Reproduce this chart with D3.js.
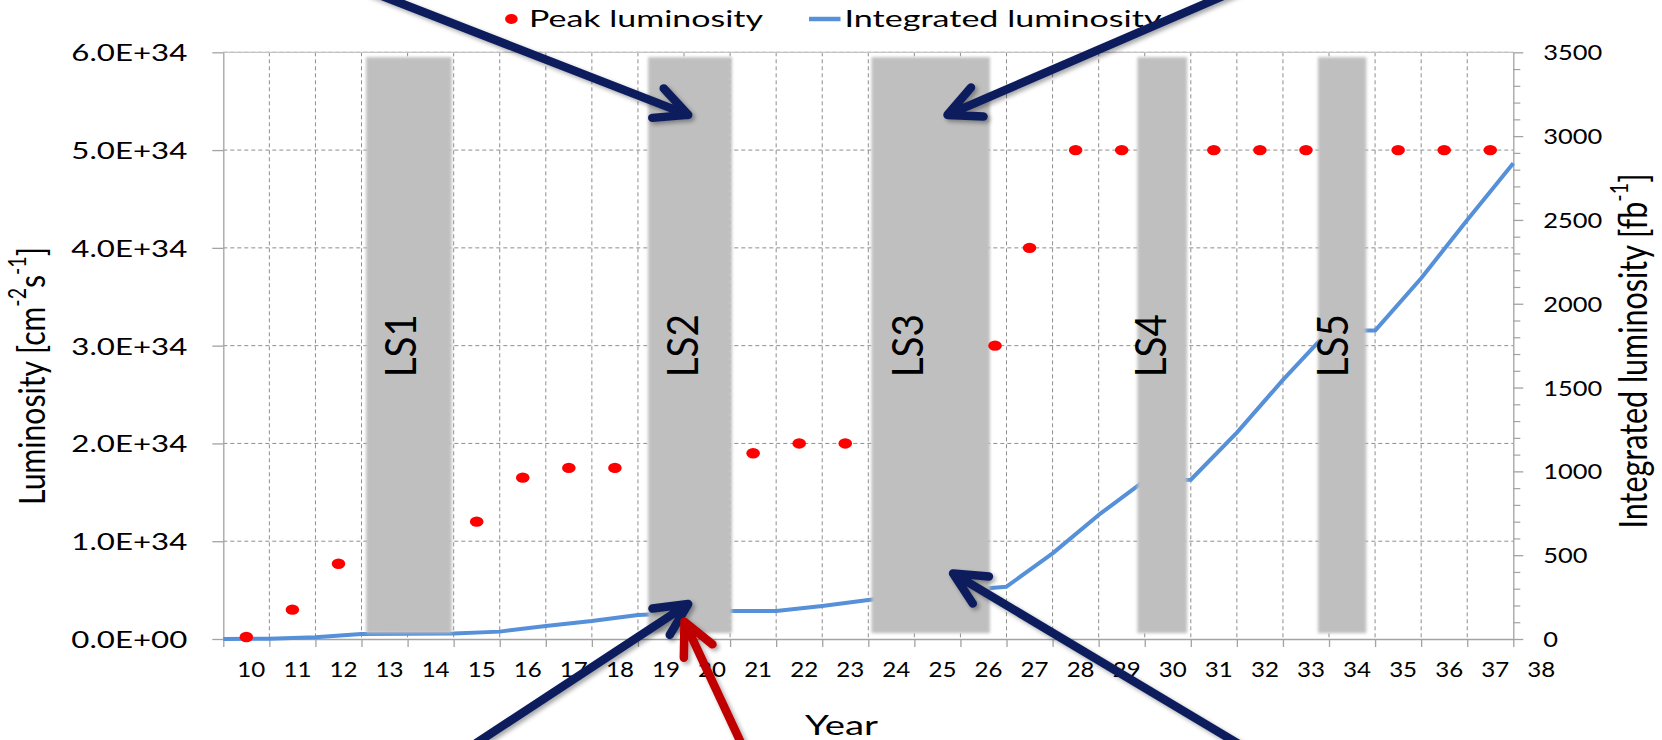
<!DOCTYPE html>
<html><head><meta charset="utf-8">
<script src="https://cdn.jsdelivr.net/npm/d3@7"></script>
<style>
body{margin:0;background:#fff;}
svg text{font-family:Lato,"Open Sans",sans-serif;fill:#000;}
</style>
</head><body>
<svg id="chart" width="1662" height="740"></svg>
<script>
// ---------------- data ----------------
const peakYears = [10, 11, 12, 15, 16, 17, 18, 21, 22, 23, 26.25, 27, 28, 29, 31, 32, 33, 35, 36, 37];
const peakLumi  = [0.02e34, 0.3e34, 0.77e34, 1.2e34, 1.65e34, 1.75e34, 1.75e34, 1.9e34, 2.0e34, 2.0e34,
                   3.0e34, 4.0e34, 5e34, 5e34, 5e34, 5e34, 5e34, 5e34, 5e34, 5e34];
const intYears = [9.5, 10.5, 11.5, 12.5, 14.5, 15.5, 16.5, 17.5, 18.5, 20.5, 21.5, 22.5, 23.5, 25.5, 26.5,
                  27.5, 28.5, 29.5, 30.5, 31.5, 32.5, 33.5, 34.5, 35.5, 36.5, 37.5];
const intLumi  = [0, 2, 10, 30, 33, 44, 78, 107, 143, 167, 167, 197, 233, 290, 312,
                  511, 740, 945, 950, 1231, 1546, 1840, 1840, 2152, 2500, 2838];
const shutdownNames = ["LS1", "LS2", "LS3", "LS4", "LS5"];
const shutdownStart = [12.6, 18.72, 23.57, 29.34, 33.26];
const shutdownEnd   = [14.46, 20.54, 26.14, 30.42, 34.31];
const shutdownLabelYear = [13.34, 19.46, 24.34, 29.63, 33.57];
const shutdownLabelLumi = 3.0e34;
const yearTicks = d3.range(10, 39);
const yearBounds = d3.range(9.5, 38, 1);
const lumiTicks = d3.range(0, 7).map(d => d * 1e34);
const intTicks = d3.range(0, 3501, 500);
const intMinorTicks = d3.range(0, 3501, 100);
const legendLabels = ["Peak luminosity", "Integrated luminosity"];
const xTitle = "Year";
// annotation arrows (year, luminosity in units of 1E34)
const arrowTailYear = [12.60, 31.52, 14.76, 20.81, 31.76];
const arrowTailLumi = [6.64, 6.64, -1.136, -1.136, -1.136];
const arrowTipYear  = [19.59, 25.22, 19.59, 19.51, 25.34];
const arrowTipLumi  = [5.36, 5.36, 0.358, 0.177, 0.671];
const arrowKind     = ["navy", "navy", "navy", "red", "navy"];

// ---------------- layout ----------------
const svg = d3.select("#chart");
const L = 223.3, R = 1513.3, T = 52.3, B = 639;
const x = d3.scaleLinear().domain([9.5, 37.5]).range([L, R]);
const yL = d3.scaleLinear().domain([0, 6e34]).range([B, T]);
const yR = d3.scaleLinear().domain([0, 3500]).range([B, T]);
const CAP = 0.7165;
const GRID = "#8e8e8e", AXIS = "#a3a3a3";
const BLUE = "#5590d8", RED = "#ff0000", NAVY = "#0b1f5c", DARKRED = "#c00000";

const defs = svg.append("defs");
defs.append("filter").attr("id", "soft").attr("x", "-10%").attr("y", "-5%").attr("width", "120%").attr("height", "110%")
  .append("feGaussianBlur").attr("stdDeviation", 1.6);
const sh = defs.append("filter").attr("id", "shadow").attr("x", "-20%").attr("y", "-20%").attr("width", "140%").attr("height", "140%");
sh.append("feDropShadow").attr("dx", 2.5).attr("dy", 2.5).attr("stdDeviation", 2).attr("flood-color", "#000").attr("flood-opacity", 0.35);

function label(parent, o) {
  const t = parent.append("text").attr("text-anchor", o.anchor || "middle").style("font-size", (o.cap / CAP) + "px");
  let prevSup = false;
  o.parts.forEach(p => {
    const ts = t.append("tspan").text(p.t);
    if (p.sup) { ts.style("font-size", "65%").attr("dy", "-0.75em"); prevSup = true; }
    else if (prevSup) { ts.attr("dy", "0.4875em"); prevSup = false; }
  });
  const w = t.node().getBBox().width;
  const sx = o.len ? o.len / w : 1;
  t.attr("y", o.cap / 2).attr("transform", `translate(${o.x},${o.y}) rotate(${o.rot || 0}) scale(${sx},1)`);
  return t;
}
function restyleTicks(g, cap, refW, anchor, dx, dy) {
  const texts = g.selectAll(".tick text");
  texts.style("font-size", (cap / CAP) + "px").attr("fill", "#000").attr("font-family", null);
  const w = texts.nodes()[texts.size() - 1].getBBox().width;
  const sx = refW / w;
  texts.attr("x", 0).attr("dy", null).attr("y", cap / 2).attr("text-anchor", anchor)
    .attr("transform", `translate(${dx},${dy}) scale(${sx},1)`);
}

// ---------------- gridlines ----------------
const grid = svg.append("g");
grid.selectAll(".vg").data(yearBounds.filter(d => d > 9.5 && d < 37.5)).join("line")
  .attr("x1", d => x(d)).attr("x2", d => x(d)).attr("y1", T).attr("y2", B)
  .attr("stroke", GRID).attr("stroke-width", 1).attr("stroke-dasharray", "4,3");
grid.selectAll(".hg").data(lumiTicks.filter(d => d > 0 && d < 6e34)).join("line")
  .attr("x1", L).attr("x2", R).attr("y1", d => yL(d)).attr("y2", d => yL(d))
  .attr("stroke", GRID).attr("stroke-width", 1).attr("stroke-dasharray", "4,3");
grid.append("line").attr("x1", L).attr("x2", R).attr("y1", yL(6e34)).attr("y2", yL(6e34))
  .attr("stroke", "#c4c4c4").attr("stroke-width", 1.3);

// ---------------- axes ----------------
const fmtE = v => { if (v === 0) return "0.0E+00"; const [m, e] = v.toExponential(1).split("e"); const n = +e; return m + "E" + (n < 0 ? "-" : "+") + String(Math.abs(n)).padStart(2, "0"); };
const gL = svg.append("g").attr("transform", `translate(${L},0)`)
  .call(d3.axisLeft(yL).tickValues(lumiTicks).tickFormat(fmtE).tickSize(11).tickSizeOuter(0));
gL.selectAll("path,line").attr("stroke", AXIS).attr("stroke-width", 1.3);
restyleTicks(gL, 16.7, 116, "end", -36, 0);

const gB = svg.append("g").attr("transform", `translate(0,${B})`)
  .call(d3.axisBottom(x).tickValues(yearBounds).tickFormat("").tickSize(8).tickSizeOuter(0));
gB.selectAll("path,line").attr("stroke", AXIS).attr("stroke-width", 1.3);
const gBL = svg.append("g").attr("transform", `translate(0,${B})`)
  .call(d3.axisBottom(x).tickValues(yearTicks).tickFormat(d3.format("d")).tickSize(0));
gBL.select(".domain").remove();
gBL.selectAll(".tick line").remove();
restyleTicks(gBL, 15, 28, "middle", 4.5, 30);

const gR = svg.append("g").attr("transform", `translate(${R},0)`)
  .call(d3.axisRight(yR).tickValues(intTicks).tickFormat(d3.format("d")).tickSize(10).tickSizeOuter(0));
gR.selectAll("path,line").attr("stroke", AXIS).attr("stroke-width", 1.3);
restyleTicks(gR, 15, 59, "start", 30, 0);
const gRm = svg.append("g").attr("transform", `translate(${R},0)`)
  .call(d3.axisRight(yR).tickValues(intMinorTicks.filter(d => d % 500 !== 0)).tickFormat("").tickSize(7).tickSizeOuter(0));
gRm.select(".domain").remove();
gRm.selectAll("line").attr("stroke", AXIS).attr("stroke-width", 1.2);

// ---------------- integrated luminosity line ----------------
const lineGen = d3.line().x(d => x(d[0])).y(d => yR(d[1]));
svg.append("path").datum(intYears.map((d, i) => [d, intLumi[i]]))
  .attr("d", lineGen).attr("fill", "none").attr("stroke", BLUE).attr("stroke-width", 4)
  .attr("stroke-linejoin", "round");

// ---------------- shutdown bands ----------------
const bands = svg.append("g");
bands.selectAll("rect").data(shutdownNames).join("rect")
  .attr("x", (d, i) => x(shutdownStart[i])).attr("width", (d, i) => x(shutdownEnd[i]) - x(shutdownStart[i]))
  .attr("y", yL(5.95e34)).attr("height", yL(0.06e34) - yL(5.95e34))
  .attr("fill", "#bfbfbf").attr("filter", "url(#soft)");

// ---------------- peak luminosity dots ----------------
svg.append("g").selectAll("ellipse").data(peakYears).join("ellipse")
  .attr("cx", d => x(d)).attr("cy", (d, i) => yL(peakLumi[i])).attr("rx", 6.8).attr("ry", 5.2).attr("fill", RED);

// shutdown labels
shutdownNames.forEach((n, i) => {
  label(svg, { x: x(shutdownLabelYear[i]), y: yL(shutdownLabelLumi), rot: -90, cap: 31, len: 63, parts: [{ t: n }] });
});

// ---------------- titles ----------------
label(svg, { x: 31.3, y: 376, rot: -90, cap: 26.7, len: 258,
  parts: [{ t: "Luminosity [cm" }, { t: "-2", sup: true }, { t: "s" }, { t: "-1", sup: true }, { t: "]" }] });
label(svg, { x: 1633, y: 351, rot: -90, cap: 27, len: 355,
  parts: [{ t: "Integrated luminosity [fb" }, { t: "-1", sup: true }, { t: "]" }] });
label(svg, { x: 841.5, y: 725, cap: 20, len: 73, parts: [{ t: xTitle }] });

// ---------------- legend ----------------
const lg = svg.append("g");
lg.append("ellipse").attr("cx", 511.4).attr("cy", 19).attr("rx", 6.3).attr("ry", 5).attr("fill", RED);
label(lg, { x: 529, y: 18.4, cap: 16.7, len: 234, anchor: "start", parts: [{ t: legendLabels[0] }] });
lg.append("line").attr("x1", 809).attr("x2", 840.5).attr("y1", 19).attr("y2", 19).attr("stroke", BLUE).attr("stroke-width", 4.5);
label(lg, { x: 844.5, y: 18.4, cap: 16.7, len: 317, anchor: "start", parts: [{ t: legendLabels[1] }] });

// ---------------- arrows ----------------
const ag = svg.append("g").attr("filter", "url(#shadow)");
arrowKind.forEach((k, i) => {
  const tx = x(arrowTipYear[i]), ty = yL(arrowTipLumi[i] * 1e34);
  const sx = x(arrowTailYear[i]), sy = yL(arrowTailLumi[i] * 1e34);
  const dx = sx - tx, dy = sy - ty, len = Math.hypot(dx, dy);
  const ux = dx / len, uy = dy / len;
  const a = 26 * Math.PI / 180, wl = 36;
  const w1 = [tx + wl * (ux * Math.cos(a) - uy * Math.sin(a)), ty + wl * (ux * Math.sin(a) + uy * Math.cos(a))];
  const w2 = [tx + wl * (ux * Math.cos(-a) - uy * Math.sin(-a)), ty + wl * (ux * Math.sin(-a) + uy * Math.cos(-a))];
  const col = k === "red" ? DARKRED : NAVY;
  ag.append("path")
    .attr("d", `M${sx},${sy}L${tx},${ty}M${w1[0]},${w1[1]}L${tx},${ty}L${w2[0]},${w2[1]}`)
    .attr("fill", "none").attr("stroke", col).attr("stroke-width", 8.5)
    .attr("stroke-linecap", "round").attr("stroke-linejoin", "round");
});
</script>
</body></html>
